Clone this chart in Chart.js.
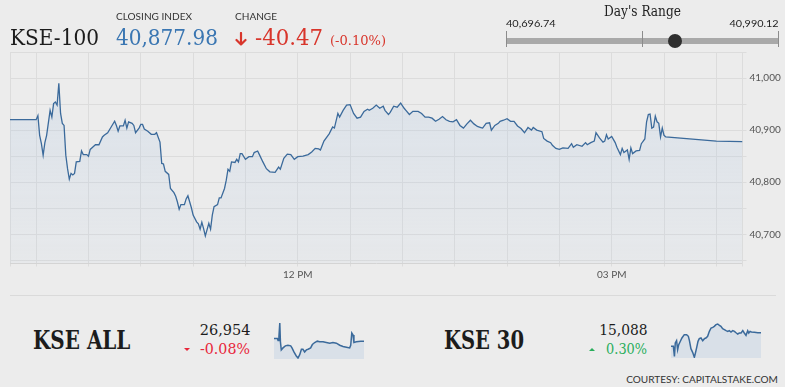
<!DOCTYPE html>
<html>
<head>
<meta charset="utf-8">
<script src="https://cdn.jsdelivr.net/npm/chart.js@4.4.1/dist/chart.umd.min.js"></script>
<style>
  html, body { margin: 0; padding: 0; background: #ececec; }
  #wrap { position: relative; width: 785px; height: 387px; overflow: hidden; }
  .t { position: absolute; white-space: nowrap; line-height: 1; transform-origin: left top; }
  .r { transform-origin: right top; }
  .serif { font-family: 'DejaVu Serif', serif; }
  .sans { font-family: Lato, sans-serif; }
  canvas { position: absolute; }
  .bar { position: absolute; }
</style>
</head>
<body>
<div id="wrap">
  <canvas id="chart" width="785" height="290" style="left:0;top:0"></canvas>

  <div class="t serif" data-w="89" style="left:10px;top:25.6px;font-size:23px;color:#1c1c1c">KSE-100</div>
  <div class="t sans" data-w="76" style="left:116px;top:11.7px;font-size:9.5px;color:#333">CLOSING INDEX</div>
  <div class="t serif" data-w="102" style="left:116px;top:25.6px;font-size:23px;color:#3a76b2">40,877.98</div>
  <div class="t sans" data-w="42" style="left:235px;top:11.7px;font-size:9.5px;color:#333">CHANGE</div>
  <svg class="bar" style="left:234.5px;top:32px" width="12" height="14" viewBox="0 0 12 14">
    <path d="M6 1 V12.5 M1.5 8 L6 12.5 L10.5 8" fill="none" stroke="#d8352b" stroke-width="2.2" stroke-linecap="round" stroke-linejoin="round"/>
  </svg>
  <div class="t serif" data-w="68" style="left:255px;top:25.6px;font-size:23px;color:#d8352b">-40.47</div>
  <div class="t serif" data-w="56" style="left:330px;top:33.5px;font-size:13px;color:#d8352b">(-0.10%)</div>

  <div class="t serif" data-w="77" style="left:604px;top:4.3px;font-size:14.5px;color:#222">Day's Range</div>
  <div class="t sans" id="lowLbl" data-w="49.7" style="left:506px;top:17.5px;font-size:10.3px;color:#222"></div>
  <div class="t sans r" id="highLbl" data-w="49" style="right:6px;top:17.5px;font-size:10.3px;color:#222"></div>
  <div class="bar" style="left:506px;top:37.5px;width:273px;height:6px;background:#a9a9a9"></div>
  <div class="bar" style="left:506px;top:31px;width:1px;height:16px;background:#8c8c8c"></div>
  <div class="bar" style="left:642px;top:31px;width:1px;height:16px;background:#8c8c8c"></div>
  <div class="bar" style="left:778px;top:31px;width:1px;height:16px;background:#8c8c8c"></div>
  <div class="bar" id="dot" style="top:33.7px;width:14px;height:14px;border-radius:50%;background:#2f2f2f"></div>

  <div class="bar" style="left:10px;top:295px;width:766px;height:1px;background:#dadada"></div>

  <div class="t serif" data-w="97.4" style="left:33.3px;top:327.7px;font-size:25.5px;font-weight:bold;color:#1c1c1c">KSE ALL</div>
  <div class="t serif r" data-w="50.7" style="right:535px;top:323.2px;font-size:15px;color:#1c1c1c">26,954</div>
  <div class="bar" style="left:184px;top:348px;width:0;height:0;border-left:3px solid transparent;border-right:3px solid transparent;border-top:3px solid #e8263a"></div>
  <div class="t serif r" data-w="50" style="right:535px;top:341.6px;font-size:14.5px;color:#e8263a">-0.08%</div>
  <canvas id="sparkAll" width="90" height="37" style="left:274px;top:322px"></canvas>

  <div class="t serif" data-w="80" style="left:444.3px;top:327.7px;font-size:25.5px;font-weight:bold;color:#1c1c1c">KSE 30</div>
  <div class="t serif r" data-w="48.3" style="right:137.7px;top:323.2px;font-size:15px;color:#1c1c1c">15,088</div>
  <div class="bar" style="left:589px;top:347.5px;width:0;height:0;border-left:3px solid transparent;border-right:3px solid transparent;border-bottom:3px solid #2aae5c"></div>
  <div class="t serif r" data-w="41" style="right:138px;top:341.6px;font-size:14.5px;color:#2aae5c">0.30%</div>
  <canvas id="spark30" width="90" height="36" style="left:671px;top:322px"></canvas>

  <div class="t sans r" data-w="151.6" style="right:6.7px;top:374.5px;font-size:9px;color:#333">COURTESY: CAPITALSTAKE.COM</div>
</div>

<script>
// KSE-100 intraday
var kseTimes = ['9:15','9:30','9:31','9:32','9:33','9:34','9:35','9:36','9:38','9:39','9:40','9:41','9:42','9:43','9:44','9:45','9:46','9:47','9:48','9:49','9:50','9:51','9:52','9:53','9:55','9:56','9:57','9:59',
  '10:00','10:01','10:03','10:04','10:06','10:08','10:09','10:11','10:13','10:15','10:16','10:17','10:18','10:20','10:21','10:22','10:23','10:25','10:26','10:27','10:29','10:30','10:31','10:32','10:34','10:36','10:38','10:39','10:41','10:42','10:43','10:44','10:46','10:47','10:49','10:50','10:51','10:52','10:53','10:55','10:56','10:57','10:59',
  '11:00','11:02','11:03','11:04','11:05','11:06','11:07','11:09','11:10','11:11','11:12','11:14','11:15','11:16','11:18','11:19','11:20','11:21','11:22','11:24','11:25','11:26','11:27','11:28','11:30','11:32','11:34','11:35','11:37','11:38','11:40','11:42','11:44','11:47','11:49','11:50','11:52','11:54','11:56','11:58',
  '12:00','12:03','12:06','12:08','12:10','12:12','12:13','12:15','12:18','12:20','12:21','12:23','12:24','12:26','12:28','12:30','12:32','12:34','12:36','12:38','12:40','12:41','12:43','12:45','12:47','12:49','12:50','12:52','12:53','12:55','12:57','12:59',
  '13:01','13:02','13:04','13:06','13:09','13:11','13:13','13:15','13:17','13:19','13:21','13:23','13:25','13:27','13:29','13:31','13:33','13:35','13:37','13:39','13:41','13:43','13:45','13:46','13:48','13:50','13:51','13:53','13:55','13:56','13:58',
  '14:00','14:02','14:04','14:06','14:08','14:10','14:12','14:14','14:15','14:17','14:20','14:21','14:23','14:25','14:26','14:28','14:30','14:32','14:35','14:37','14:38','14:40','14:43','14:45','14:46','14:48','14:50','14:51','14:53','14:55','14:56','14:57','14:58',
  '15:00','15:02','15:03','15:05','15:06','15:07','15:09','15:10','15:11','15:12','15:14','15:16','15:17','15:19','15:20','15:21','15:22','15:23','15:24','15:25','15:26','15:27','15:28','15:29','15:30','15:31','16:00','16:15'];
var kseValues = [40920,40920,40928,40890,40874,40852,40876,40890,40938,40925,40951,40954,40948,40990,40932,40913,40909,40852,40826,40806,40817,40814,40817,40839,40840,40860,40853,40853,
  40850,40863,40869,40872,40872,40887,40890,40895,40906,40917,40909,40898,40908,40908,40919,40904,40916,40913,40909,40895,40904,40911,40911,40902,40898,40892,40892,40895,40877,40836,40835,40821,40815,40788,40780,40773,40762,40748,40757,40757,40768,40774,40751,
  40737,40724,40720,40710,40723,40711,40697,40721,40710,40737,40753,40757,40770,40770,40788,40804,40825,40821,40839,40838,40844,40839,40855,40855,40844,40849,40849,40857,40860,40853,40839,40826,40820,40819,40829,40825,40846,40854,40853,40844,
  40849,40850,40853,40858,40865,40864,40862,40879,40893,40906,40904,40932,40925,40938,40948,40949,40932,40923,40925,40936,40940,40938,40942,40948,40942,40946,40938,40930,40934,40946,40944,40952,
  40942,40938,40930,40936,40936,40932,40925,40925,40923,40917,40921,40926,40920,40917,40916,40920,40909,40904,40912,40919,40912,40907,40905,40904,40913,40914,40900,40909,40913,40917,40919,
  40922,40917,40917,40908,40903,40895,40905,40900,40905,40900,40897,40884,40879,40876,40871,40865,40863,40866,40865,40874,40867,40872,40869,40876,40872,40876,40879,40895,40885,40877,40879,40891,40883,
  40888,40876,40867,40853,40865,40857,40862,40844,40866,40855,40860,40861,40874,40883,40916,40930,40931,40904,40906,40927,40916,40913,40887,40904,40890,40887,40879,40878];

// KSE ALL sparkline
var allTimes = ['9:15','9:31','9:34','9:38','9:42','9:45','9:49','9:57','10:08','10:20','10:33','10:39','10:48','10:59','11:07','11:15','11:23','11:30','11:38','11:46','11:54','12:06','12:14','12:25','12:37','12:48','13:04','13:19','13:35','13:50','14:06','14:22','14:37','14:53','15:08','15:13','15:18','15:24','15:28','15:39','16:00','16:15'];
var allValues = [26958,26958,26955,26961,26981,26953,26941,26944,26947,26948,26947,26944,26938,26932,26929,26934,26942,26942,26938,26941,26942,26944,26949,26952,26954,26953,26953,26952,26951,26952,26951,26948,26946,26945,26944,26948,26966,26963,26952,26953,26954,26954];

// KSE 30 sparkline
var k30Times = ['9:15','9:26','9:31','9:35','9:41','9:46','9:51','9:57','10:06','10:17','10:28','10:36','10:41','10:48','10:56','11:04','11:09','11:15','11:21','11:27','11:35','11:43','11:51','11:58','12:06','12:14','12:22','12:30','12:37','12:45','12:53','13:01','13:08','13:16','13:24','13:32','13:40','13:47','13:55','14:03','14:11','14:20','14:26','14:34','14:42','14:50','14:57','15:05','15:13','15:18','15:24','15:30','15:44','16:00','16:15'];
var k30Values = [15071.6,15071.6,15059.6,15075.6,15078.4,15067.6,15073.6,15076.8,15081.6,15085.6,15085.6,15083.6,15078.4,15068.8,15064.4,15058.4,15063.6,15070.4,15077.6,15080.8,15081.6,15078.4,15080.8,15081.6,15083.6,15089.6,15093.6,15094.4,15095.6,15097.6,15098.4,15096.8,15095.6,15092.8,15091.6,15090.4,15089.6,15090.4,15088.8,15090.4,15089.6,15087.6,15086.4,15087.6,15087.6,15090.4,15087.6,15084.8,15090.4,15087.6,15089.6,15088.8,15088.4,15088,15088];

// axes
var xGridTimes = ['9:15','9:30','10:00','10:30','11:00','11:30','12:00','12:30','13:00','13:30','14:00','14:30','15:00','15:30','16:00','16:15'];
var xLabelTimes = ['12:00','15:00'];
var xLabelText = ['12 PM','03 PM'];
var yGrid = [40650,40700,40750,40800,40850,40900,40950,41000,41050];
var yLabels = [40700,40800,40900,41000];
var dayRange = [40696.74, 40990.12];
var closeIndex = 40877.98;

function toMin(s) { var p = s.split(':'); return +p[0] * 60 + +p[1]; }
function pts(times, vals) { return times.map(function(t, i) { return { x: toMin(t), y: vals[i] }; }); }
function fmt(v, d) { return v.toLocaleString('en-US', { minimumFractionDigits: d, maximumFractionDigits: d }); }

var xMin = toMin(xGridTimes[0]), xMax = toMin(xGridTimes[xGridTimes.length - 1]);
var lineColor = '#3b6a9b';

// day's range
document.getElementById('lowLbl').textContent = fmt(dayRange[0], 2);
document.getElementById('highLbl').textContent = fmt(dayRange[1], 2);
var frac = (closeIndex - dayRange[0]) / (dayRange[1] - dayRange[0]);
document.getElementById('dot').style.left = (506 + frac * 273 - 7) + 'px';

// main chart
var ctx = document.getElementById('chart').getContext('2d');
var mainChart = new Chart(ctx, {
    type: 'line',
    data: {
        datasets: [{
            data: pts(kseTimes, kseValues),
            borderColor: lineColor,
            borderWidth: 1.3,
            pointRadius: 0,
            tension: 0,
            fill: 'start',
            backgroundColor: function(c) {
                var area = c.chart.chartArea;
                if (!area) return 'rgba(176,200,228,0.2)';
                var g = c.chart.ctx.createLinearGradient(0, area.top, 0, area.bottom);
                g.addColorStop(0, 'rgba(176,200,228,0.3)');
                g.addColorStop(1, 'rgba(176,200,228,0.08)');
                return g;
            },
        }],
    },
    options: {
        responsive: false,
        animation: false,
        layout: { padding: { left: 10, top: 52, right: 0, bottom: 0 } },
        plugins: { legend: { display: false }, tooltip: { enabled: false } },
        scales: {
            x: {
                type: 'linear',
                min: xMin,
                max: xMax,
                afterBuildTicks: function(s) { s.ticks = xGridTimes.map(function(t) { return { value: toMin(t) }; }); },
                afterFit: function(s) { s.height = 26.5; },
                grid: { color: '#dcdcdc', tickLength: 3 },
                border: { color: '#d4d4d4' },
                ticks: {
                    autoSkip: false,
                    maxRotation: 0,
                    padding: 2,
                    color: '#555',
                    font: { family: 'Lato', size: 10 },
                    callback: function(v) {
                        var i = xLabelTimes.map(toMin).indexOf(v);
                        return i >= 0 ? xLabelText[i] : '';
                    },
                },
            },
            y: {
                position: 'right',
                min: 40644,
                max: 41050,
                afterBuildTicks: function(s) { s.ticks = yGrid.map(function(v) { return { value: v }; }); },
                afterFit: function(s) { s.width = 42.5; },
                grid: { color: '#dcdcdc', tickLength: 4 },
                border: { color: '#dcdcdc' },
                ticks: {
                    padding: 3,
                    color: '#555',
                    font: { family: 'Lato', size: 10 },
                    callback: function(v) { return yLabels.indexOf(v) >= 0 ? fmt(v, 0) : ''; },
                },
            },
        },
    },
});

// sparklines
function spark(id, times, vals, yMin, yMax) {
    return new Chart(document.getElementById(id).getContext('2d'), {
        type: 'line',
        data: {
            datasets: [{
                data: pts(times, vals),
                borderColor: lineColor,
                borderWidth: 1.5,
                pointRadius: 0,
                tension: 0,
                fill: 'start',
                backgroundColor: '#d9e0e8',
            }],
        },
        options: {
            responsive: false,
            animation: false,
            layout: { padding: 0 },
            plugins: { legend: { display: false }, tooltip: { enabled: false } },
            scales: {
                x: { type: 'linear', min: xMin, max: xMax, display: false },
                y: { min: yMin, max: yMax, display: false },
            },
        },
    });
}
spark('sparkAll', allTimes, allValues, 26927.5, 26982.5);
spark('spark30', k30Times, k30Values, 15057.6, 15100.8);

// squeeze header texts to the widths they have in the picture
function fit() {
    document.querySelectorAll('[data-w]').forEach(function(el) {
        el.style.transform = 'none';
        var w = el.getBoundingClientRect().width;
        if (w > 0) el.style.transform = 'scaleX(' + (el.dataset.w / w) + ')';
    });
}
fit();
if (document.fonts) document.fonts.ready.then(fit);
</script>
</body>
</html>
